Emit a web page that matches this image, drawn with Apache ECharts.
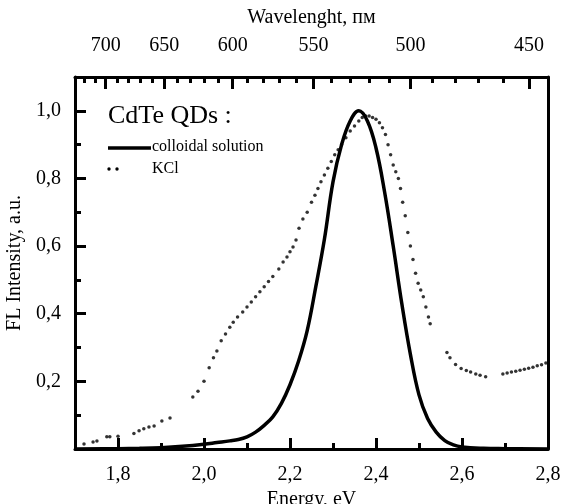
<!DOCTYPE html>
<html>
<head>
<meta charset="utf-8">
<script src="https://cdn.jsdelivr.net/npm/echarts@6/dist/echarts.min.js"></script>
<style>
html,body{margin:0;padding:0;background:#fff;}
#chart{width:566px;height:504px;}
</style>
</head>
<body>
<div id="chart"></div>
<script>
// ---- data ----
const energyColloidal = [1.70,1.80,1.85,1.90,1.95,2.00,2.03,2.06,2.08,2.10,2.12,2.14,2.16,2.18,2.20,2.22,2.24,2.26,2.28,2.30,2.32,2.34,2.36,2.38,2.40,2.42,2.44,2.46,2.48,2.50,2.52,2.54,2.56,2.58,2.60,2.65,2.70,2.80];
const intensityColloidal = [0,0.001,0.002,0.004,0.008,0.014,0.019,0.024,0.028,0.036,0.05,0.07,0.095,0.135,0.19,0.26,0.35,0.48,0.62,0.79,0.9,0.97,1.0,0.97,0.89,0.76,0.6,0.43,0.28,0.16,0.09,0.05,0.025,0.012,0.006,0.002,0.001,0];

const energyKCl = [1.721,1.742,1.751,1.774,1.781,1.800,1.837,1.849,1.860,1.872,1.884,1.902,1.921,1.974,1.986,
  2.000,2.012,2.022,2.030,2.040,2.050,2.060,2.068,2.078,2.090,2.100,2.110,2.120,2.130,2.140,2.150,2.160,2.174,2.184,2.193,2.200,2.207,2.214,2.221,
  2.230,2.240,2.250,2.258,2.265,2.272,2.280,2.288,2.296,2.304,2.312,2.320,2.330,2.340,2.350,2.360,2.368,2.376,2.384,2.392,2.400,2.408,2.415,
  2.422,2.428,2.434,2.440,2.446,2.452,2.457,2.462,2.468,2.474,2.480,2.486,2.492,2.498,2.504,2.510,2.516,2.522,2.526,
  2.565,2.572,2.585,2.598,2.610,2.620,2.632,2.642,2.655,2.695,2.705,2.715,2.725,2.735,2.745,2.755,2.765,2.775,2.785,2.795];
const intensityKCl = [0.015,0.021,0.024,0.036,0.036,0.038,0.046,0.054,0.060,0.065,0.068,0.083,0.092,0.154,0.171,
  0.20,0.24,0.27,0.29,0.32,0.34,0.36,0.375,0.39,0.405,0.42,0.435,0.45,0.465,0.48,0.495,0.51,0.532,0.553,0.568,0.583,0.597,0.618,0.653,
  0.68,0.70,0.73,0.75,0.77,0.79,0.81,0.83,0.85,0.87,0.885,0.90,0.92,0.94,0.955,0.97,0.98,0.985,0.985,0.98,0.975,0.965,0.95,
  0.93,0.90,0.87,0.84,0.82,0.80,0.77,0.73,0.69,0.64,0.60,0.56,0.52,0.49,0.47,0.45,0.42,0.39,0.37,
  0.285,0.27,0.25,0.238,0.232,0.228,0.222,0.218,0.214,0.222,0.225,0.228,0.230,0.233,0.236,0.239,0.242,0.246,0.249,0.254];

const energyMajorTicks = [1.8,2.0,2.2,2.4,2.6,2.8];
const energyAllTicks = [1.8,1.9,2.0,2.1,2.2,2.3,2.4,2.5,2.6,2.7];
const intensityMajorTicks = [0.2,0.4,0.6,0.8,1.0];
const intensityAllTicks = [0.1,0.2,0.3,0.4,0.5,0.6,0.7,0.8,0.9,1.0];
const wavelengthLabels = [700,650,600,550,500,450];
const wavelengthMinor = [720,710,700,690,680,670,660,650,640,630,620,610,600,590,580,570,560,550,540,530,520,510,500,490,480,470,460,450];

const HC = 1240; // eV·nm conversion
const toE = l => HC / l;

const FONT = 'Liberation Serif';
const E_MIN = 1.7, E_MAX = 2.8, I_MIN = 0, I_MAX = 1.1;
const comma = v => v.toFixed(1).replace('.', ',');

const colloidalData = energyColloidal.map((e, i) => [e, intensityColloidal[i]]);
const kclData = energyKCl.map((e, i) => [e, intensityKCl[i]]);

const chart = echarts.init(document.getElementById('chart'), null, {renderer: 'canvas'});
const lineStyle = {color: '#000', width: 3};
const tickStyle = {color: '#000', width: 3};
const baseX = {type: 'value', min: E_MIN, max: E_MAX, splitLine: {show: false}};
const baseY = {type: 'value', min: I_MIN, max: I_MAX, splitLine: {show: false}};
const gridRect = {left: 75, right: 18, top: 77, bottom: 55, containLabel: false, outerBoundsMode: 'none'};

chart.setOption({
  backgroundColor: '#fff',
  animation: false,
  grid: [Object.assign({}, gridRect), Object.assign({}, gridRect)],
  xAxis: [
    Object.assign({}, baseX, {
      gridIndex: 0, position: 'bottom',
      name: 'Energy, eV', nameLocation: 'middle', nameGap: 32,
      nameTextStyle: {fontFamily: FONT, fontSize: 20, color: '#000'},
      axisLine: {show: true, onZero: false, lineStyle: lineStyle},
      axisTick: {show: true, inside: true, length: 11, lineStyle: tickStyle, customValues: energyMajorTicks},
      axisLabel: {show: true, margin: 16, fontFamily: FONT, fontSize: 20, color: '#000', customValues: energyMajorTicks, formatter: v => comma(v)}
    }),
    Object.assign({}, baseX, {
      gridIndex: 0, position: 'top',
      name: 'Wavelenght, пм', nameLocation: 'middle', nameGap: 49,
      nameTextStyle: {fontFamily: FONT, fontSize: 20, color: '#000'},
      axisLine: {show: true, onZero: false, lineStyle: lineStyle},
      axisTick: {show: true, inside: true, length: 12, lineStyle: tickStyle, customValues: wavelengthLabels.map(toE)},
      axisLabel: {show: true, margin: 21, fontFamily: FONT, fontSize: 20, color: '#000', customValues: wavelengthLabels.map(toE), formatter: v => String(Math.round(HC / v))}
    }),
    Object.assign({}, baseX, {
      gridIndex: 1, position: 'bottom',
      axisLine: {show: false, onZero: false},
      axisTick: {show: true, inside: true, length: 6, lineStyle: tickStyle, customValues: energyAllTicks},
      axisLabel: {show: false}
    }),
    Object.assign({}, baseX, {
      gridIndex: 1, position: 'top',
      axisLine: {show: false, onZero: false},
      axisTick: {show: true, inside: true, length: 6, lineStyle: tickStyle, customValues: wavelengthMinor.map(toE)},
      axisLabel: {show: false}
    })
  ],
  yAxis: [
    Object.assign({}, baseY, {
      gridIndex: 0, position: 'left',
      name: 'FL Intensity, a.u.', nameLocation: 'middle', nameGap: 40,
      nameTextStyle: {fontFamily: FONT, fontSize: 20, color: '#000'},
      axisLine: {show: true, onZero: false, lineStyle: lineStyle},
      axisTick: {show: true, inside: true, length: 11, lineStyle: tickStyle, customValues: intensityMajorTicks},
      axisLabel: {show: true, margin: 14, fontFamily: FONT, fontSize: 20, color: '#000', customValues: intensityMajorTicks, formatter: v => comma(v)}
    }),
    Object.assign({}, baseY, {
      gridIndex: 0, position: 'right',
      axisLine: {show: true, onZero: false, lineStyle: lineStyle},
      axisTick: {show: false},
      axisLabel: {show: false}
    }),
    Object.assign({}, baseY, {
      gridIndex: 1, position: 'left',
      axisLine: {show: false, onZero: false},
      axisTick: {show: true, inside: true, length: 6, lineStyle: tickStyle, customValues: intensityAllTicks},
      axisLabel: {show: false}
    }),
    Object.assign({}, baseY, {
      gridIndex: 1, position: 'right', show: false
    })
  ],
  graphic: [
    {type: 'text', left: 108, top: 103, style: {text: 'CdTe QDs :', fontFamily: FONT, fontSize: 26, fill: '#000'}},
    {type: 'line', shape: {x1: 108, y1: 148, x2: 151, y2: 148}, style: {stroke: '#000', lineWidth: 3.5}},
    {type: 'text', left: 152, top: 139, style: {text: 'colloidal solution', fontFamily: FONT, fontSize: 16, fill: '#000'}},
    {type: 'circle', shape: {cx: 109, cy: 169, r: 1.7}, style: {fill: '#000'}},
    {type: 'circle', shape: {cx: 117, cy: 169, r: 1.7}, style: {fill: '#000'}},
    {type: 'text', left: 152, top: 161, style: {text: 'KCl', fontFamily: FONT, fontSize: 16, fill: '#000'}}
  ],
  series: [
    {
      name: 'colloidal solution', type: 'line', xAxisIndex: 0, yAxisIndex: 0,
      data: colloidalData, smooth: 0.4, showSymbol: false,
      lineStyle: {color: '#000', width: 3.5}
    },
    {
      name: 'KCl', type: 'scatter', xAxisIndex: 0, yAxisIndex: 0,
      data: kclData, symbol: 'circle', symbolSize: 3.5,
      itemStyle: {color: '#000'}
    }
  ]
});
</script>
</body>
</html>
